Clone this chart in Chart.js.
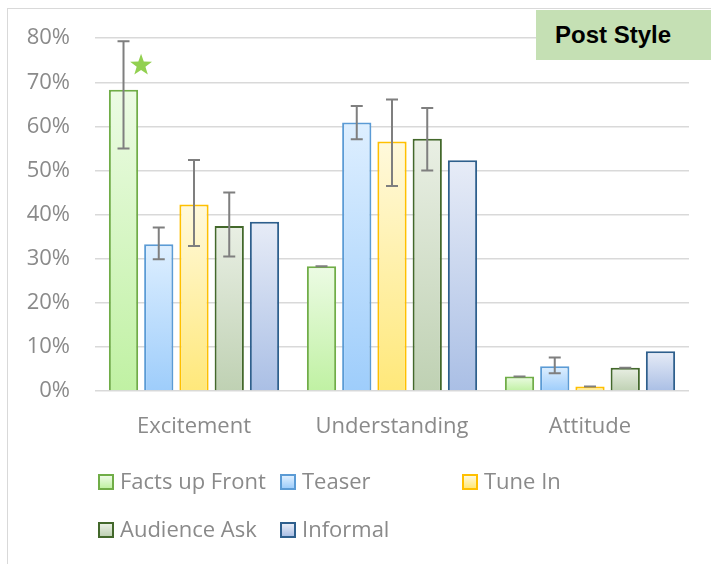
<!DOCTYPE html>
<html>
<head>
<meta charset="utf-8">
<script src="https://cdn.jsdelivr.net/npm/chart.js@4.4.1/dist/chart.umd.min.js"></script>
<style>
  html, body { margin: 0; padding: 0; background: #fff; overflow: hidden; }
  #wrap { position: relative; width: 711px; height: 564px; }
  #frame { position: absolute; left: 7px; top: 8px; width: 760px; height: 620px; border: 1px solid #d9d9d9; }
  #myChart { position: absolute; left: 0; top: 0; }
  #title { position: absolute; left: 536px; top: 10px; width: 175px; height: 50px; background: #c5e0b4;
           font: bold 24px "Liberation Sans", Arial, sans-serif; color: #000; line-height: 50px; text-indent: 19px; }
  #legend { position: absolute; left: 98px; top: 468px; width: 560px; display: flex; flex-wrap: wrap; }
  .item { width: 182px; height: 48px; display: flex; align-items: flex-start; font: 22px "Open Sans", sans-serif; color: #8a8a8a; }
  .item span.box { display: inline-block; width: 12px; height: 12px; border: 2px solid; margin-top: 6px; margin-right: 6px; flex: none; }
  .item span.txt { line-height: 25px; white-space: nowrap; }
</style>
</head>
<body>
<div id="wrap">
  <div id="frame"></div>
  <canvas id="myChart" width="711" height="564"></canvas>
  <div id="title">Post Style</div>
  <div id="legend"></div>
</div>
<script>
const categories = ['Excitement', 'Understanding', 'Attitude'];
const seriesNames = ['Facts up Front', 'Teaser', 'Tune In', 'Audience Ask', 'Informal'];

const factsUpFront = [68.3, 28.3, 3.3];
const teaser = [33.3, 60.9, 5.6];
const tuneIn = [42.3, 56.6, 1.0];
const audienceAsk = [37.4, 57.2, 5.3];
const informal = [38.4, 52.3, 9.0];

// error bar ends (null = no error bar)
const factsLow = [55.0, 28.3, 3.3], factsHigh = [79.3, 28.3, 3.3];
const teaserLow = [29.9, 57.1, 4.0], teaserHigh = [37.1, 64.6, 7.6];
const tuneLow = [32.9, 46.5, 1.0], tuneHigh = [52.4, 66.1, 1.0];
const askLow = [30.5, 50.0, 5.3], askHigh = [45.0, 64.2, 5.3];
const informalLow = [null, null, null], informalHigh = [null, null, null];

const yTicks = [0, 10, 20, 30, 40, 50, 60, 70, 80];
const starValue = 74.2; // star marker over Facts up Front / Excitement

const seriesValues = [factsUpFront, teaser, tuneIn, audienceAsk, informal];
const lows = [factsLow, teaserLow, tuneLow, askLow, informalLow];
const highs = [factsHigh, teaserHigh, tuneHigh, askHigh, informalHigh];

const borders = ['#70ad47', '#5b9bd5', '#ffc000', '#43682b', '#2e5f8d'];
const tops = ['#ecfbe4', '#deefff', '#fff9dc', '#e9efe4', '#e7ecf7'];
const bottoms = ['#c0f1a3', '#9ecdfb', '#ffe87a', '#bfd1b3', '#aabfe5'];

function barGradient(i) {
  return (ctx) => {
    const chart = ctx.chart;
    if (!chart.chartArea || ctx.type !== 'data' || !chart.scales.y) return bottoms[i];
    const y = chart.scales.y;
    const yTop = y.getPixelForValue(ctx.raw);
    const yBase = y.getPixelForValue(0);
    if (!isFinite(yTop) || yBase - yTop < 1) return bottoms[i];
    const g = chart.ctx.createLinearGradient(0, yTop, 0, yBase);
    g.addColorStop(0, tops[i]);
    g.addColorStop(1, bottoms[i]);
    return g;
  };
}

const errorBars = {
  id: 'errorBars',
  afterDatasetsDraw(chart) {
    const ctx = chart.ctx, y = chart.scales.y;
    ctx.save();
    ctx.strokeStyle = '#7f7f7f';
    ctx.lineWidth = 2;
    chart.data.datasets.forEach((ds, i) => {
      const meta = chart.getDatasetMeta(i);
      meta.data.forEach((bar, j) => {
        if (lows[i][j] == null) return;
        const x = bar.x;
        const yl = y.getPixelForValue(lows[i][j]);
        const yh = y.getPixelForValue(highs[i][j]);
        ctx.beginPath();
        ctx.moveTo(x, yl); ctx.lineTo(x, yh);
        ctx.moveTo(x - 6, yl); ctx.lineTo(x + 6, yl);
        ctx.moveTo(x - 6, yh); ctx.lineTo(x + 6, yh);
        ctx.stroke();
      });
    });
    ctx.restore();
  }
};

const starMark = {
  id: 'starMark',
  afterDraw(chart) {
    const bar = chart.getDatasetMeta(0).data[0];
    const cx = bar.x + bar.width * 0.6;
    const cy = chart.scales.y.getPixelForValue(starValue);
    const ctx = chart.ctx;
    const R = 11.5, r = 4.6;
    ctx.save();
    ctx.fillStyle = '#92d050';
    ctx.beginPath();
    for (let k = 0; k < 10; k++) {
      const a = -Math.PI / 2 + k * Math.PI / 5;
      const rad = k % 2 === 0 ? R : r;
      const px = cx + rad * Math.cos(a), py = cy + 1.5 + rad * Math.sin(a);
      k === 0 ? ctx.moveTo(px, py) : ctx.lineTo(px, py);
    }
    ctx.closePath();
    ctx.fill();
    ctx.restore();
  }
};

const data = {
  labels: categories,
  datasets: seriesNames.map((name, i) => ({
    label: name,
    data: seriesValues[i],
    backgroundColor: barGradient(i),
    borderColor: borders[i],
    borderWidth: 2,
    borderSkipped: 'bottom',
    categoryPercentage: 0.89,
    barPercentage: 0.83
  }))
};

const config = {
  type: 'bar',
  data: data,
  plugins: [errorBars, starMark],
  options: {
    responsive: false,
    animation: false,
    layout: { padding: { left: 20, right: 22, top: 28, bottom: 123 } },
    plugins: { legend: { display: false }, tooltip: { enabled: false } },
    scales: {
      x: {
        grid: { display: false },
        border: { display: false },
        ticks: { color: '#8a8a8a', font: { family: 'Open Sans', size: 22 }, padding: 15 },
        afterFit: (s) => { s.height = 50; }
      },
      y: {
        min: 0, max: 80,
        afterBuildTicks: (s) => { s.ticks = yTicks.map(v => ({ value: v })); },
        grid: { color: '#d9d9d9', lineWidth: 1.5, drawTicks: false },
        border: { display: false },
        ticks: { color: '#8a8a8a', font: { family: 'Open Sans', size: 22 }, padding: 25,
                 callback: (v) => v + '%' },
        afterFit: (s) => { s.width = 75; }
      }
    }
  }
};

const chart = new Chart(document.getElementById('myChart'), config);

// legend in a 3-column grid, as in the reference
const legend = document.getElementById('legend');
seriesNames.forEach((name, i) => {
  const item = document.createElement('div');
  item.className = 'item';
  item.innerHTML = '<span class="box" style="border-color:' + borders[i] +
    ';background:linear-gradient(' + tops[i] + ',' + bottoms[i] + ')"></span><span class="txt">' + name + '</span>';
  legend.appendChild(item);
});
</script>
</body>
</html>
